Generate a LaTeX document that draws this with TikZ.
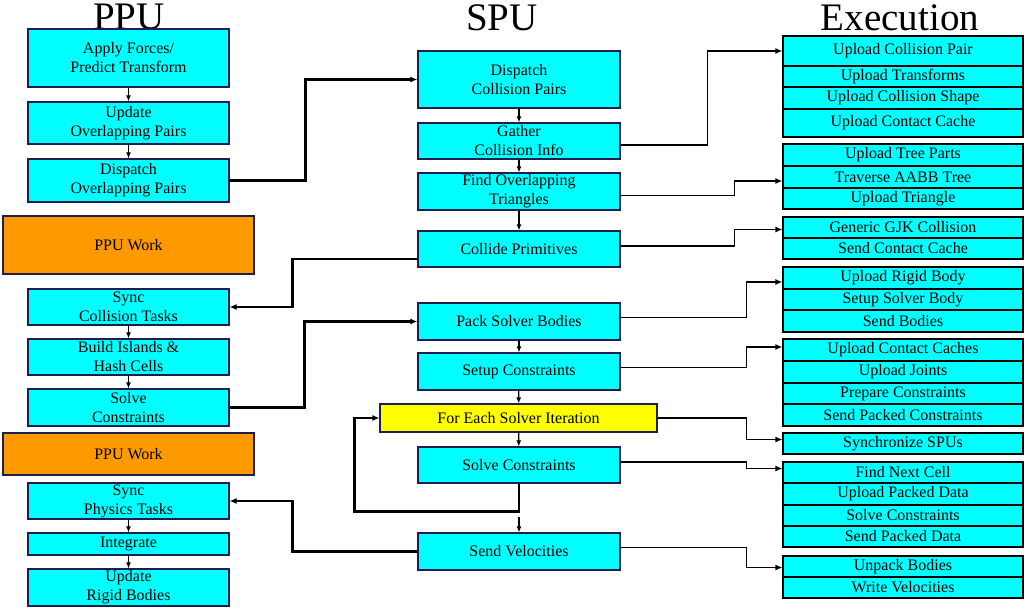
\documentclass[tikz,border=0pt]{standalone}
\usepackage{fontspec}
\setmainfont{Liberation Serif}
\usepackage{tikz}
\usetikzlibrary{arrows.meta}
\definecolor{boxcyan}{HTML}{00FFFF}
\definecolor{workorange}{HTML}{FF9900}
\definecolor{iteryellow}{HTML}{FFFF00}
\definecolor{boxline}{HTML}{1F1F4F}
\tikzset{
  stepbox/.style={rectangle,draw=boxline,line width=1.1pt,fill=boxcyan,inner sep=0pt,
    align=center,font=\fontsize{16}{19}\selectfont},
  rowbox/.style={stepbox,draw=black,minimum width=240pt},
  title/.style={anchor=base,inner sep=0pt,text height=26pt,text depth=0pt,
    font=\fontsize{39}{39}\selectfont},
  down/.style={-{Latex[length=6pt,width=5pt]},line width=1.2pt},
  handoff/.style={-{Latex[length=7pt,width=6pt]},line width=2.6pt},
  feed/.style={-{Latex[length=7pt,width=6pt]},line width=1.8pt}
}
\newcommand{\ppunode}{\node[stepbox,minimum width=201pt]}
\newcommand{\worknode}{\node[stepbox,fill=workorange,minimum width=251pt]}
\newcommand{\spunode}{\node[stepbox,minimum width=202pt]}
\newcommand{\rownode}{\node[rowbox]}

\begin{document}
\begin{tikzpicture}[x=1pt,y=-1pt]
      \useasboundingbox (0,0) rectangle (1032,612);
      \node[title] (tppu) at (129,30) {PPU};
      \node[title] (tspu) at (502,31) {SPU};
      \node[title] (texe) at (900,31) {Execution};
      % PPU
      \ppunode[minimum height=58pt] (afpt) at (128.5,58) {Apply Forces/\\Predict Transform};
      \ppunode[minimum height=42pt] (uop) at (128.5,123) {Update\\Overlapping Pairs};
      \ppunode[minimum height=43pt] (dop) at (128.5,180.5) {Dispatch\\Overlapping Pairs};
      \worknode[minimum height=58pt] (work1) at (128.5,245) {PPU Work};
      \ppunode[minimum height=36pt] (sct) at (128.5,307) {Sync\\Collision Tasks};
      \ppunode[minimum height=36pt] (bih) at (128.5,357) {Build Islands \&\\Hash Cells};
      \ppunode[minimum height=37pt] (ppusc) at (128.5,407.5) {Solve\\Constraints};
      \worknode[minimum height=42pt] (work2) at (128.5,454) {PPU Work};
      \ppunode[minimum height=36pt] (spt) at (128.5,501) {Sync\\Physics Tasks};
      \ppunode[minimum height=22pt] (intg) at (128.5,544) {Integrate};
      \ppunode[minimum height=37pt] (urb) at (128.5,587.5) {Update\\Rigid Bodies};
      % SPU
      \spunode[minimum height=57pt] (dcp) at (519,79.5) {Dispatch\\Collision Pairs};
      \spunode[minimum height=36pt] (gci) at (519,141) {Gather\\Collision Info};
      \spunode[minimum height=37pt] (fot) at (519,191.5) {Find Overlapping\\Triangles};
      \spunode[minimum height=36pt] (colp) at (519,249) {Collide Primitives};
      \spunode[minimum height=37pt] (psb) at (519,321.5) {Pack Solver Bodies};
      \spunode[minimum height=37pt] (setc) at (519,371.5) {Setup Constraints};
      \node[stepbox,fill=iteryellow,minimum width=277pt,minimum height=28pt] (fesi) at (518.5,418) {For Each Solver Iteration};
      \spunode[minimum height=36pt] (solc) at (519,465) {Solve Constraints};
      \spunode[minimum height=37pt] (sendv) at (519,551.5) {Send Velocities};
      % Execution
      \rownode[minimum height=30pt] (ucp) at (903,51) {Upload Collision Pair};
      \rownode[minimum height=21pt] (utr) at (903,76.5) {Upload Transforms};
      \rownode[minimum height=22pt] (ucs) at (903,98) {Upload Collision Shape};
      \rownode[minimum height=28pt] (ucc) at (903,123) {Upload Contact Cache};
      \rownode[minimum height=22pt] (utp) at (903,155) {Upload Tree Parts};
      \rownode[minimum height=22pt] (tat) at (903,177) {Traverse AABB Tree};
      \rownode[minimum height=21pt] (utri) at (903,198.5) {Upload Triangle};
      \rownode[minimum height=21pt] (gjk) at (903,227.5) {Generic GJK Collision};
      \rownode[minimum height=21pt] (scc) at (903,248.5) {Send Contact Cache};
      \rownode[minimum height=22pt] (urbd) at (903,278) {Upload Rigid Body};
      \rownode[minimum height=21pt] (ssb) at (903,299.5) {Setup Solver Body};
      \rownode[minimum height=22pt] (sbod) at (903,321) {Send Bodies};
      \rownode[minimum height=22pt] (uccs) at (903,350) {Upload Contact Caches};
      \rownode[minimum height=22pt] (ujn) at (903,372) {Upload Joints};
      \rownode[minimum height=21pt] (prc) at (903,393.5) {Prepare Constraints};
      \rownode[minimum height=22pt] (spc) at (903,415) {Send Packed Constraints};
      \rownode[minimum height=21pt] (sspu) at (903,443.5) {Synchronize SPUs};
      \rownode[minimum height=21pt] (fnc) at (903,472.5) {Find Next Cell};
      \rownode[minimum height=22pt] (upd) at (903,494) {Upload Packed Data};
      \rownode[minimum height=21pt] (exsc) at (903,515.5) {Solve Constraints};
      \rownode[minimum height=21pt] (spd) at (903,536.5) {Send Packed Data};
      \rownode[minimum height=21pt] (unb) at (903,566.5) {Unpack Bodies};
      \rownode[minimum height=21pt] (wvel) at (903,587.5) {Write Velocities};
      % flow inside columns
      \draw[down] (afpt) -- (uop);
      \draw[down] (uop) -- (dop);
      \draw[down] (sct) -- (bih);
      \draw[down] (bih) -- (ppusc);
      \draw[down] (spt) -- (intg);
      \draw[down] (intg) -- (urb);
      \draw[down] (dcp) -- (gci);
      \draw[down] (gci) -- (fot);
      \draw[down] (fot) -- (colp);
      \draw[down] (psb) -- (setc);
      \draw[down] (setc) -- (fesi);
      \draw[down] (fesi) -- (solc);
      \draw[down] ([yshift=15pt]sendv.north) -- (sendv.north);
      \draw[handoff] (solc.south) -- ++(0,28) -| ([xshift=-25pt]fesi.west) -- (fesi.west);
      % PPU <-> SPU
      \draw[handoff] (dop.east) -- ++(76,0) |- (dcp.west);
      \draw[handoff] ([yshift=-10pt]colp.west) -- ++(-125,0) |- (sct.east);
      \draw[handoff] (ppusc.east) -- ++(75,0) |- (psb.west);
      \draw[handoff] (sendv.west) -- ++(-125,0) |- (spt.east);
      % SPU -> Execution
      \draw[feed] ([yshift=-4pt]gci.east) -- ++(87,0) |- (ucp.west);
      \draw[feed] ([yshift=-4pt]fot.east) -- ++(114,0) |- ([yshift=-4pt]tat.west);
      \draw[feed] ([yshift=3pt]colp.east) -- ++(114,0) |- ([yshift=-2pt]gjk.west);
      \draw[feed] ([yshift=4pt]psb.east) -- ++(126,0) |- ([yshift=-4pt]urbd.west);
      \draw[feed] ([yshift=4pt]setc.east) -- ++(126,0) |- ([yshift=3pt]uccs.west);
      \draw[feed] (fesi.east) -- ++(89,0) |- ([yshift=4pt]sspu.west);
      \draw[feed] ([yshift=3pt]solc.east) -- ++(126,0) |- ([yshift=4pt]fnc.west);
      \draw[feed] ([yshift=4pt]sendv.east) -- ++(126,0) |- ([yshift=-1pt]unb.west);
\end{tikzpicture}
\end{document}
